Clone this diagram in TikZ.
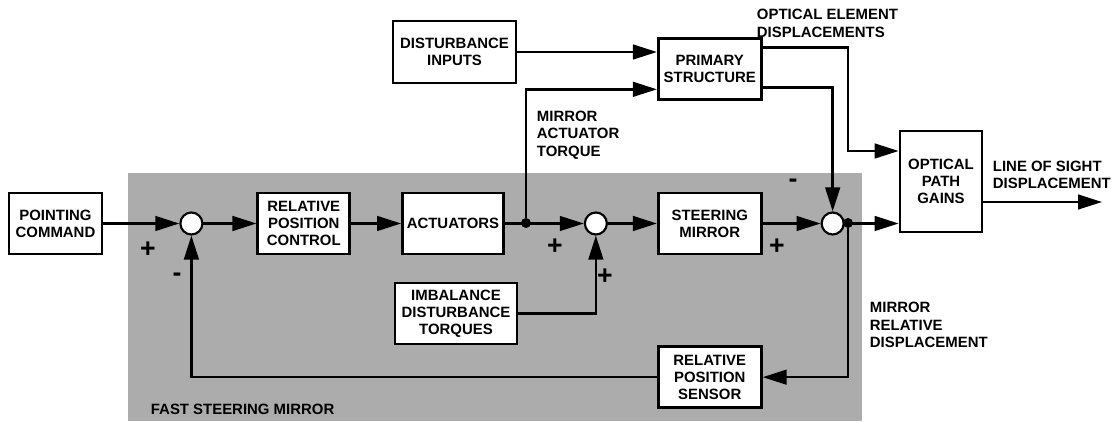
\documentclass[tikz,border=0pt]{standalone}
\usepackage{fontspec}
\setmainfont{Liberation Sans}
\usetikzlibrary{arrows.meta, positioning, calc}
\definecolor{panelgray}{RGB}{172, 172, 172}

\begin{document}
\begin{tikzpicture}[
    x=0.75pt, y=-0.75pt,
    node distance=40pt,
    box/.style={draw, line width=2pt, fill=white, minimum width=76pt, minimum height=45.75pt, align=center, inner sep=2pt, font=\bfseries\fontsize{11.2}{12.8}\selectfont},
    tag/.style={align=left, inner sep=2pt, font=\bfseries\fontsize{11.2}{13}\selectfont},
    sign/.style={inner sep=0pt, font=\bfseries\fontsize{20}{20}\selectfont},
    junction/.style={circle, draw, line width=1.6pt, fill=white, minimum size=16.5pt, inner sep=0pt},
    branch/.style={circle, fill, minimum size=7.5pt, inner sep=0pt},
    arrow/.style={-{Triangle[length=18pt, width=11pt]}, line width=1.8pt}
]
\useasboundingbox (0,0) rectangle (1116,423);

% shaded mirror assembly
\fill[panelgray] (128,173) rectangle (862,421);
\node[tag, anchor=west] (fsmtag) at (148,409) {FAST STEERING MIRROR};

% main loop
\node[box, minimum width=69.75pt] (point) at (55.5,223.5) {POINTING\\COMMAND};
\node[junction, right=57pt of point] (sum1) {};
\node[box, minimum width=69pt, right=39.75pt of sum1] (rpc) {RELATIVE\\POSITION\\CONTROL};
\node[box, minimum width=75.75pt, right=37.5pt of rpc] (act) {ACTUATORS};
\node[junction, right=59.25pt of act] (sum2) {};
\node[box, minimum width=77.25pt, right=36.75pt of sum2] (steer) {STEERING\\MIRROR};
\node[junction, right=43.5pt of steer] (sum3) {};

\node[box, minimum width=77.25pt, above=68.25pt of steer] (prim) {PRIMARY\\STRUCTURE};
\node[box, minimum width=77.25pt, below=67.5pt of steer] (sens) {RELATIVE\\POSITION\\SENSOR};
\node[box, minimum width=92.25pt, minimum height=46.5pt] (dist) at (454.5,52) {DISTURBANCE\\INPUTS};
\node[box, minimum width=91.5pt] (imb) at (456,313.5) {IMBALANCE\\DISTURBANCE\\TORQUES};
\node[box, minimum width=61.5pt, minimum height=75.75pt] (opg) at (941,181.5) {OPTICAL\\PATH\\GAINS};

\node[branch] (tap1) at (526,223) {};
\node[branch] (tap2) at (848,223) {};
\coordinate (los) at (1102,202);

\draw[arrow] (point) -- (sum1);
\draw[arrow] (sum1) -- (rpc);
\draw[arrow] (rpc) -- (act);
\draw[arrow] (act) -- (sum2);
\draw[arrow] (sum2) -- (steer);
\draw[arrow] (steer) -- (sum3);
\draw[arrow] (sum3) -- (sum3 -| opg.west);
\draw[arrow] (opg.east |- los) -- (los);

\draw[arrow] (dist.east) -- (dist.east -| prim.west);
\draw[arrow] (tap1) |- ($(prim.west)+(0,20.5)$);
\draw[arrow] (imb.east) -| (sum2.south);
\draw[arrow] ($(prim.east)+(0,18.5)$) -| (sum3.north);
\draw[arrow] ($(prim.east)+(0,-21.5)$) -| ($(tap2 |- opg.west)+(0,-30.5)$) -- ($(opg.west)+(0,-30.5)$);
\draw[arrow] (tap2) |- (sens.east);
\draw[arrow] (sens.west) -| (sum1.south);

% signs at the summing points
\node[sign] (s1p) at (148,250) {+};
\node[sign] (s1m) at (177,277) {-};
\node[sign] (s2p) at (555,247) {+};
\node[sign] (s2q) at (605,277) {+};
\node[sign] (s3p) at (777,247) {+};
\node[sign] (s3m) at (793,183) {-};

% signal names
\node[tag, anchor=west] (mattag) at (534,135) {MIRROR\\ACTUATOR\\TORQUE};
\node[tag, anchor=west] (oedtag) at (754,23.5) {OPTICAL ELEMENT\\DISPLACEMENTS};
\node[tag, anchor=west] (lostag) at (990,175) {LINE OF SIGHT\\DISPLACEMENT};
\node[tag, anchor=west] (mrdtag) at (867,325) {MIRROR\\RELATIVE\\DISPLACEMENT};

\end{tikzpicture}
\end{document}
